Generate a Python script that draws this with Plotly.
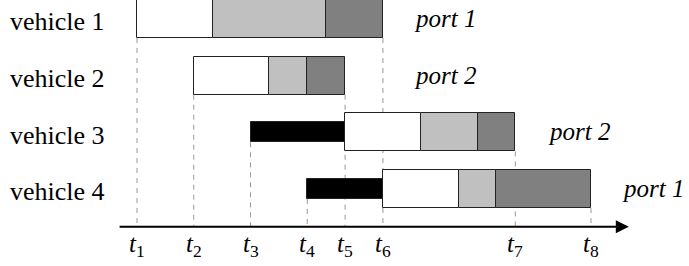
import plotly.graph_objects as go

# ---- data (time units) ----
vehicles = ["vehicle 1", "vehicle 2", "vehicle 3", "vehicle 4"]
ports = ["port 1", "port 2", "port 2", "port 1"]
wait_start = [None, None, 6, 9]      # black waiting bar start
service_start = [0, 3, 11, 13]       # white box start
white_end = [4, 7, 15, 17]
light_end = [10, 9, 18, 19]
service_end = [13, 11, 20, 24]
tick_values = [0, 3, 6, 9, 11, 13, 20, 24]
tick_labels = ["1", "2", "3", "4", "5", "6", "7", "8"]

# ---- styling / geometry ----
W, H = 689, 266
px_per_unit = (591 - 137) / 24.0
x0_px = 137
row0_px, row_px = 19, 56.7
box_h = 0.67
wait_h = 0.35
axis_row = 3.665
FONT = "Liberation Serif"
LIGHT, DARK, EDGE = "#c0c0c0", "#808080", "#222222"

rows = list(range(len(vehicles)))
fig = go.Figure()

def add_bar(row, start, end, color, height):
    fig.add_trace(go.Bar(
        y=[row], x=[end - start], base=[start], orientation="h",
        width=height, marker=dict(color=color, line=dict(color=EDGE, width=1)),
        showlegend=False, hoverinfo="skip"))

for r in rows:
    if wait_start[r] is not None:
        add_bar(r, wait_start[r], service_start[r], "black", wait_h)
    add_bar(r, service_start[r], white_end[r], "white", box_h)
    add_bar(r, white_end[r], light_end[r], LIGHT, box_h)
    add_bar(r, light_end[r], service_end[r], DARK, box_h)

# dashed guide lines from the first bar edge at each tick down to the axis
shapes = []
for t in tick_values:
    top = None
    for r in rows:
        if t in (service_start[r], service_end[r]):
            top = r + box_h / 2
            break
        if wait_start[r] is not None and t == wait_start[r]:
            top = r + wait_h / 2
            break
    if top is None:
        continue
    shapes.append(dict(type="line", xref="x", yref="y", x0=t, x1=t, y0=top, y1=axis_row,
                       layer="below", line=dict(color="#999999", width=1, dash="5px,5px")))

annotations = []
# time axis arrow
annotations.append(dict(x=26.0, y=axis_row, ax=-1.0, ay=axis_row, axref="x", ayref="y",
                        xref="x", yref="y", text="", showarrow=True, arrowhead=2,
                        arrowsize=1.3, arrowwidth=2, arrowcolor="black"))
# tick labels
for t, lab in zip(tick_values, tick_labels):
    annotations.append(dict(x=t, y=3.99, xref="x", yref="y", showarrow=False,
                            text=f"<i>t</i><sub>{lab}</sub>",
                            font=dict(family=FONT, size=25, color="black")))
# vehicle labels
for r in rows:
    annotations.append(dict(x=(8 - x0_px) / px_per_unit, y=r + 0.05, xref="x", yref="y",
                            xanchor="left", showarrow=False, text=vehicles[r],
                            font=dict(family=FONT, size=26, color="black")))
# port labels
port_x = [14.55, 14.55, 21.6, 25.55]
for r in rows:
    annotations.append(dict(x=port_x[r], y=r - 0.01, xref="x", yref="y",
                            xanchor="left", showarrow=False, text=f"<i>{ports[r]}</i>",
                            font=dict(family=FONT, size=25, color="black")))

fig.update_layout(
    width=W, height=H, margin=dict(l=0, r=0, t=0, b=0),
    paper_bgcolor="white", plot_bgcolor="white", barmode="overlay",
    xaxis=dict(range=[-x0_px / px_per_unit, (W - x0_px) / px_per_unit], visible=False),
    yaxis=dict(range=[(H - row0_px) / row_px, -row0_px / row_px], visible=False),
    shapes=shapes, annotations=annotations, bargap=0,
)
fig.write_html("out.html", config={"displayModeBar": False},
               post_script="document.body.style.margin='0';document.body.style.padding='0';")
